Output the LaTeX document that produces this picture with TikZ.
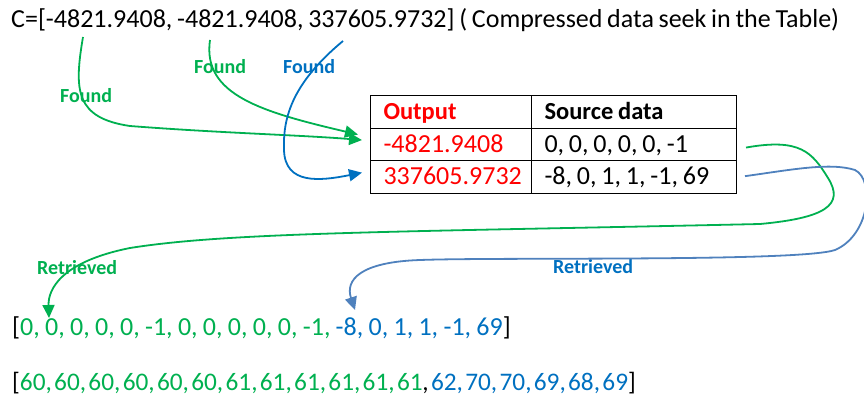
\documentclass[tikz,border=0pt]{standalone}
\usepackage{fontspec}
\setmainfont{Carlito}
\usetikzlibrary{arrows.meta,calc}
\definecolor{grn}{HTML}{00B050}
\definecolor{blu}{HTML}{0070C0}
\definecolor{sblu}{HTML}{4F81BD}
\definecolor{rd}{HTML}{FF0000}
\tikzset{
  txt/.style={inner sep=0pt, anchor=base west},
  bigfont/.style={font=\fontsize{26}{30}\selectfont},
  lbl/.style={txt, font=\fontsize{20}{24}\selectfont\bfseries},
  cell/.style={draw, line width=1pt, anchor=north west, minimum height=32.7pt,
    inner xsep=13pt, text height=17pt, text depth=2pt, align=left,
    font=\fontsize{26}{30}\selectfont,
    execute at begin node={\spaceskip=4.8pt\relax}},
  col1/.style={cell, text width=135pt, text=rd},
  col2/.style={cell, text width=179pt},
  hd/.style={font=\fontsize{24.5}{28}\selectfont\bfseries},
  arr/.style={line width=1.8pt, -{Triangle[length=13pt,width=12pt]}},
}
\begin{document}
\begin{tikzpicture}[x=1pt,y=-1pt]
\useasboundingbox (0,0) rectangle (864,404);
% title
\node[txt, bigfont] (title) at (11,27.5) {\spaceskip=4.7pt\relax C=[-4821.9408, -4821.9408, 337605.9732] ( Compressed data seek in the Table)};
% table
\node[col1, hd] (h1) at (370,95) {Output};
\node[col2, hd] (h2) at (531,95) {Source data};
\node[col1] (o1) at (370,127.7) {-4821.9408};
\node[col2] (s1) at (531,127.7) {0, 0, 0, 0, 0, -1};
\node[col1] (o2) at (370,160.3) {337605.9732};
\node[col2] (s2) at (531,160.3) {-8, 0, 1, 1, -1, 69};
% labels
\node[lbl, text=grn] (fd1) at (60,102) {Found};
\node[lbl, text=grn] (fd2) at (194,73.5) {Found};
\node[lbl, text=blu] (fd3) at (283,73.5) {Found};
\node[lbl, text=grn] (rt1) at (37,274) {Retrieved};
\node[lbl, text=blu] (rt2) at (553,273) {Retrieved};
% sequences
\node[txt, bigfont] (seq1) at (12,335) {\spaceskip=5.3pt\relax [\textcolor{grn}{0, 0, 0, 0, 0, -1, 0, 0, 0, 0, 0, -1,} \textcolor{blu}{-8, 0, 1, 1, -1, 69}]};
\node[txt, font=\fontsize{25.3}{29}\selectfont] (seq2) at (12,390) {\spaceskip=2.3pt\relax [\textcolor{grn}{60, 60, 60, 60, 60, 60, 61, 61, 61, 61, 61, 61}, \textcolor{blu}{62, 70, 70, 69, 68, 69}]};
% arrow anchor points
\coordinate (c1) at (83,37);
\coordinate (c2) at (210,40);
\coordinate (c3) at (343,41);
\coordinate (d1) at (49,318);
\coordinate (d2) at (355,310);
% Found arrows
\draw[arr, grn] (c1) .. controls (74,90) and (75,118) .. (130,126)
  .. controls (220,133) and (300,135) .. ($(o1.west)+(-8,-4.5)$);
\draw[arr, grn] (c2) .. controls (202,95) and (262,112) .. ($(o1.west)+(-12,-10)$);
\draw[arr, blu] (c3) .. controls (290,85) and (283,120) .. (284,150)
  .. controls (285,185) and (320,181) .. ($(o2.west)+(-8,-4.5)$);
% Retrieved arrows
\draw[arr, grn] ($(s1.east)+(9,3)$) .. controls (800,138) and (812,152) .. (828,178)
  .. controls (845,205) and (825,218) .. (760,224)
  .. controls (400,232) and (230,232) .. (130,248)
  .. controls (60,262) and (48,290) .. (d1);
\draw[arr, sblu] ($(s2.east)+(8,-1)$) .. controls (790,170) and (830,162) .. (855,170)
  .. controls (875,180) and (870,235) .. (835,250)
  .. controls (800,262) and (500,257) .. (420,260)
  .. controls (360,262) and (345,280) .. (d2);
\end{tikzpicture}
\end{document}
